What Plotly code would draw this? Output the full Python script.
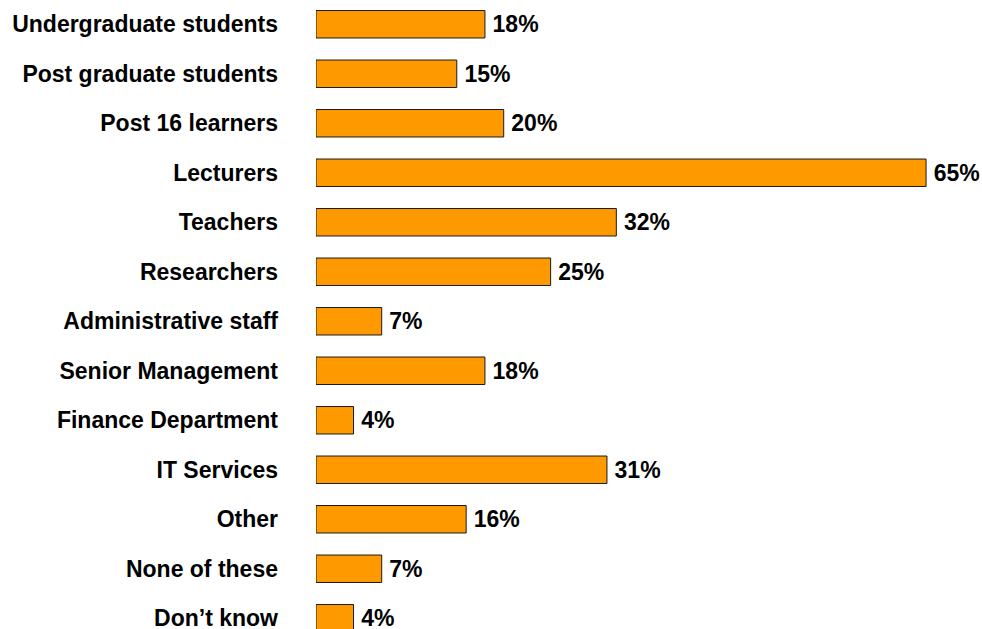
import plotly.graph_objects as go

categories = [
    "Undergraduate students",
    "Post graduate students",
    "Post 16 learners",
    "Lecturers",
    "Teachers",
    "Researchers",
    "Administrative staff",
    "Senior Management",
    "Finance Department",
    "IT Services",
    "Other",
    "None of these",
    "Don\u2019t know",
]
percentages = [18, 15, 20, 65, 32, 25, 7, 18, 4, 31, 16, 7, 4]
# a thin space keeps each value label a little clear of its bar end
value_labels = [f"\u2009{p}%" for p in percentages]

FONT = "Liberation Sans, Arial, sans-serif"

fig = go.Figure(
    go.Bar(
        y=categories,
        x=percentages,
        orientation="h",
        marker=dict(color="#FF9900", line=dict(color="#1a1a1a", width=1)),
        text=value_labels,
        textposition="outside",
        textfont=dict(family=FONT, size=23, color="#000000", weight="bold"),
        constraintext="none",
        cliponaxis=False,
        hoverinfo="skip",
    )
)

fig.update_layout(
    width=982,
    height=629,
    margin=dict(l=316, r=9, t=0, b=0),
    paper_bgcolor="white",
    plot_bgcolor="white",
    bargap=0.445,
    showlegend=False,
    xaxis=dict(
        range=[0, 70],
        visible=False,
        showgrid=False,
        zeroline=False,
        automargin=False,
    ),
    yaxis=dict(
        type="category",
        range=[12.217, -0.49],
        automargin=False,
        showgrid=False,
        zeroline=False,
        showline=False,
        ticks="",
        ticklabelstandoff=37,
        tickfont=dict(family=FONT, size=23, color="#000000", weight="bold"),
    ),
)

fig.write_html("out.html")
